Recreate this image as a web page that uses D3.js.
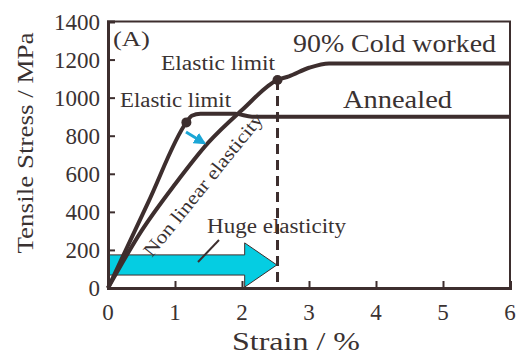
<!doctype html>
<html>
<head>
  <meta charset="UTF-8" />
  <title>Tensile stress vs strain</title>
  <style>
    html, body { margin: 0; background: #fff; }
    svg text { font-family: "Liberation Serif", "Times New Roman", serif; fill: #3a3232; }
    .curve { fill: none; stroke: #3d2e2e; stroke-width: 4; stroke-linejoin: round; }
  </style>
</head>
<body>
  <script src="https://cdn.jsdelivr.net/npm/d3@7"></script>
  <script>
    // data
    const strainTicks = [0, 1, 2, 3, 4, 5, 6];
    const stressTicks = [0, 200, 400, 600, 800, 1000, 1200, 1400];

    // [strain %, stress MPa]
    const annealed = [[0, 0], [0.6, 450], [1.17, 870], [1.25, 905], [1.38, 916], [1.9, 915], [2.15, 900], [6, 900]];
    const coldWorked = [[0, 0], [0.5, 300], [1.0, 545], [1.5, 765], [2.0, 935], [2.53, 1093], [2.7, 1112], [3.0, 1157], [3.3, 1180], [6, 1180]];
    const elasticLimits = [[1.17, 870], [2.53, 1093]];
    // cyan "huge elasticity" arrow outline
    const hugeArrow = [[0, 174], [2.04, 174], [2.04, 237], [2.52, 121], [2.04, 5], [2.04, 68], [0, 68]];

    const W = 527, H = 360;
    const ink = '#3d2e2e';

    const x = d3.scaleLinear().domain([0, 6]).range([108, 510]);
    const y = d3.scaleLinear().domain([0, 1400]).range([288, 21.5]);

    const svg = d3.select('body').append('svg')
      .attr('width', W).attr('height', H);

    // cyan arrow (under the curves)
    svg.append('polygon')
      .attr('points', hugeArrow.map(d => [x(d[0]), y(d[1])].join(',')).join(' '))
      .attr('fill', '#05cde2')
      .attr('stroke', ink)
      .attr('stroke-width', 1);

    // frame
    svg.append('rect')
      .attr('x', x(0)).attr('y', y(1400))
      .attr('width', x(6) - x(0)).attr('height', y(0) - y(1400))
      .attr('fill', 'none').attr('stroke', ink).attr('stroke-width', 2);

    // axes, ticks inside
    const yAxis = svg.append('g').attr('transform', `translate(${x(0)},0)`)
      .call(d3.axisRight(y).tickValues(stressTicks).tickSize(7).tickFormat(''));
    yAxis.select('.domain').attr('stroke', ink).attr('stroke-width', 3);
    yAxis.selectAll('.tick line').attr('stroke', ink).attr('stroke-width', 2);

    const xAxis = svg.append('g').attr('transform', `translate(0,${y(0)})`)
      .call(d3.axisTop(x).tickValues(strainTicks.slice(1, -1)).tickSize(7).tickFormat(''));
    xAxis.select('.domain').attr('stroke', ink).attr('stroke-width', 3);
    xAxis.selectAll('.tick line').attr('stroke', ink).attr('stroke-width', 2);

    // tick labels
    svg.append('g').selectAll('text').data(stressTicks).join('text')
      .attr('x', 100).attr('y', d => y(d) + 8)
      .attr('text-anchor', 'end').attr('font-size', 23)
      .text(d => d);
    svg.append('g').selectAll('text').data(strainTicks).join('text')
      .attr('x', d => x(d)).attr('y', 320)
      .attr('text-anchor', 'middle').attr('font-size', 23)
      .text(d => d);

    // axis titles
    svg.append('text')
      .attr('x', 296).attr('y', 350)
      .attr('text-anchor', 'middle').attr('font-size', 26)
      .attr('textLength', 128).attr('lengthAdjust', 'spacingAndGlyphs')
      .text('Strain / %');
    svg.append('text')
      .attr('transform', `translate(33,143) rotate(-90)`)
      .attr('text-anchor', 'middle').attr('font-size', 24)
      .attr('textLength', 221).attr('lengthAdjust', 'spacingAndGlyphs')
      .text('Tensile Stress / MPa');

    // curves
    const line = d3.line().x(d => x(d[0])).y(d => y(d[1])).curve(d3.curveMonotoneX);
    svg.append('path').attr('class', 'curve').attr('d', line(annealed));
    svg.append('path').attr('class', 'curve').attr('d', line(coldWorked));

    // dashed elastic limit drop line
    svg.append('line')
      .attr('x1', x(2.53)).attr('x2', x(2.53))
      .attr('y1', y(1093)).attr('y2', y(0))
      .attr('stroke', ink).attr('stroke-width', 3)
      .attr('stroke-dasharray', '10,6');

    svg.append('g').selectAll('circle').data(elasticLimits).join('circle')
      .attr('cx', d => x(d[0])).attr('cy', d => y(d[1]))
      .attr('r', 5).attr('fill', ink);

    // small cyan arrow between curves
    svg.append('defs').append('marker')
      .attr('id', 'head').attr('viewBox', '0 0 10 10')
      .attr('refX', 8).attr('refY', 5)
      .attr('markerWidth', 4).attr('markerHeight', 4).attr('orient', 'auto')
      .append('path').attr('d', 'M0,0L10,5L0,10Z').attr('fill', '#1ba6d6');
    svg.append('line')
      .attr('x1', 186).attr('y1', 132).attr('x2', 204).attr('y2', 143)
      .attr('stroke', '#1ba6d6').attr('stroke-width', 3)
      .attr('marker-end', 'url(#head)');

    // pointer for huge elasticity
    svg.append('line')
      .attr('x1', 219).attr('y1', 240).attr('x2', 198).attr('y2', 262)
      .attr('stroke', ink).attr('stroke-width', 2);

    // annotations
    const note = (tx, ty, size, len, s) => svg.append('text')
      .attr('x', tx).attr('y', ty).attr('font-size', size)
      .attr('textLength', len).attr('lengthAdjust', 'spacingAndGlyphs')
      .text(s);

    note(113, 46, 21, 37, '(A)');
    note(161, 70, 20, 114, 'Elastic limit');
    note(120, 107, 20, 111, 'Elastic limit');
    note(293, 52, 25, 203, '90% Cold worked');
    note(343, 108, 25, 109, 'Annealed');
    note(207, 233, 20, 139, 'Huge elasticity');

    svg.append('text')
      .attr('transform', 'translate(152,258) rotate(-51)')
      .attr('font-size', 19)
      .attr('textLength', 178).attr('lengthAdjust', 'spacingAndGlyphs')
      .text('Non linear elasticity');
  </script>
</body>
</html>
